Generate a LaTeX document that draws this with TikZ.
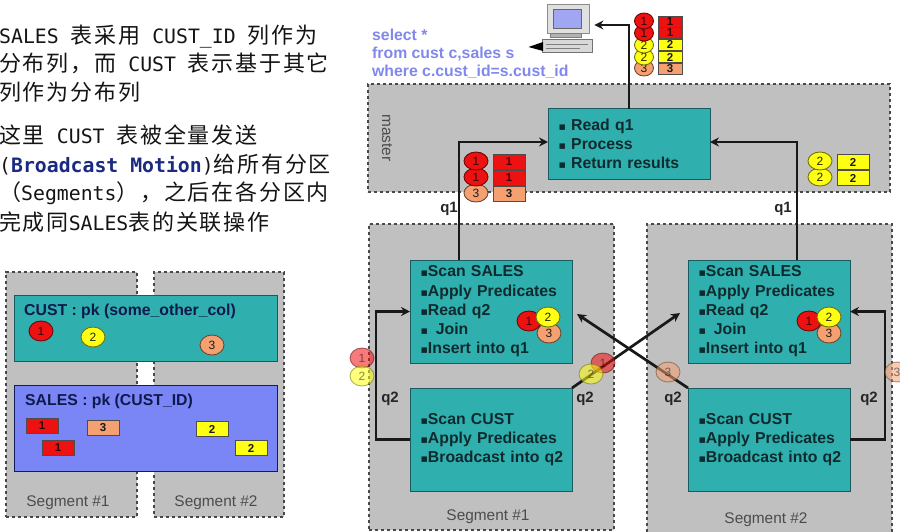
\documentclass[tikz,border=0pt]{standalone}
\usepackage{fontspec}
\usetikzlibrary{shapes.geometric,arrows.meta,calc}
\setmainfont{Liberation Sans}
\newfontfamily\cjkfam[LetterSpace=8.2]{Noto Sans CJK SC}
\newfontfamily\monofam{DejaVu Sans Mono}
\newfontfamily\bulletfam{DejaVu Sans}
\newcommand\zh[1]{{\fontsize{22}{24}\cjkfam #1}}
\newcommand\ltn[1]{{\fontsize{19.8}{24}\monofam #1}}
\newcommand\blt{\hspace*{7pt}{\bulletfam\fontsize{11}{12}\selectfont ▪}}
\newcommand\bltm{\hspace*{4.5pt}{\bulletfam\fontsize{11}{12}\selectfont ▪}}
\definecolor{segfill}{HTML}{C0C0C0}
\definecolor{segline}{HTML}{484848}
\definecolor{teal1}{HTML}{2FB0AE}
\definecolor{tealline}{HTML}{1A5A60}
\definecolor{blue1}{HTML}{7B86F6}
\definecolor{inktext}{HTML}{0F2A2E}
\definecolor{selblue}{HTML}{8088EC}
\definecolor{cred}{HTML}{EE1111}
\definecolor{cyel}{HTML}{FFFF11}
\definecolor{corg}{HTML}{F4A070}
\definecolor{navy1}{HTML}{1A2A80}
\tikzset{
  seg/.style={draw=segline,fill=segfill,dash pattern=on 3.2pt off 2.8pt,line width=1.2pt,inner sep=0pt,outer sep=0pt},
  tbox/.style={draw=tealline,fill=teal1,line width=1pt,inner sep=0pt,outer sep=0pt},
  proc/.style={tbox,text=inktext,font=\fontsize{15.8}{19.2}\selectfont\bfseries,align=left},
  tag/.style={ellipse,draw=#1!45!black,inner sep=0pt,minimum width=24pt,minimum height=20pt,line width=.9pt,text=black!85!#1,font=\fontsize{12}{12}\selectfont},
  tagr/.style={tag=cred,fill=cred,text=black!75!cred},
  tagy/.style={tag=cyel,fill=cyel},
  tago/.style={tag=corg,fill=corg},
  row/.style={rectangle,draw=black!70,inner sep=0pt,line width=.9pt,text=black!90,font=\fontsize{11.5}{12}\selectfont\bfseries},
  rowr/.style={row,fill=cred,text=black!75!cred},
  rowy/.style={row,fill=cyel},
  rowo/.style={row,fill=corg},
  ghost/.style={opacity=.55},
  flow/.style={line width=2.7pt,draw=black!90,-{Stealth[length=9pt,width=9pt]}},
  qlab/.style={font=\fontsize{15}{16}\selectfont\bfseries,text=black!85},
  seglab/.style={font=\fontsize{15.4}{16}\selectfont,text=black!70},
  zhline/.style={anchor=base west,inner sep=0pt,text=black!92},
  tabhead/.style={anchor=west,inner sep=0pt,font=\fontsize{15.8}{16}\selectfont\bfseries,text=navy1!60!black},
  sel/.style={anchor=west,inner sep=0pt,font=\fontsize{15.8}{16}\selectfont\bfseries,text=selblue},
}
\begin{document}
\begin{tikzpicture}[x=1pt,y=-1pt]
\useasboundingbox (0,0) rectangle (900,531);
% left text
\node[zhline] (l1) at (-1,43) {\ltn{SALES }\zh{表采用}\ltn{ CUST\_ID }\zh{列作为}};
\node[zhline] (l2) at (-1,71) {\zh{分布列，而}\ltn{ CUST }\zh{表示基于其它}};
\node[zhline] (l3) at (-1,100) {\zh{列作为分布列}};
\node[zhline] (l4) at (-1,143) {\zh{这里}\ltn{ CUST }\zh{表被全量发送}};
\node[zhline] (l5) at (-1,172) {\ltn{(}\textcolor{navy1}{\ltn{\bfseries Broadcast Motion}}\ltn{)}\zh{给所有分区}};
\node[zhline] (l6) at (-1,200) {\zh{（}\ltn{Segments}\zh{），之后在各分区内}};
\node[zhline] (l7) at (-1,230) {\zh{完成同}\ltn{SALES}\zh{表的关联操作}};
% left panel
\node[seg,minimum width=131pt,minimum height=245pt] (ls1) at (71.5,394.5) {};
\node[seg,minimum width=130pt,minimum height=245pt] (ls2) at (219,394.5) {};
\node[tbox,minimum width=263pt,minimum height=66pt] (custt) at (145.5,328) {};
\node[tbox,fill=blue1,draw=navy1!70!black,minimum width=263pt,minimum height=86pt] (salest) at (145.5,428) {};
\node[tabhead] (custh) at (24,311) {CUST : pk (some\_other\_col)};
\node[tabhead] (salesh) at (25,401) {SALES : pk (CUST\_ID)};
\node[tagr] (lc1) at (41,331) {1};
\node[tagy] (lc2) at (93,337) {2};
\node[tago] (lc3) at (212,345) {3};
\tikzset{lr/.style={minimum width=32pt,minimum height=15pt}}
\node[rowr,lr] (lr1) at (42,426) {1};
\node[rowo,lr] (lr3) at (103,428) {3};
\node[rowr,lr] (lr1b) at (58,448) {1};
\node[rowy,lr] (lr2) at (212,429) {2};
\node[rowy,lr] (lr2b) at (251,448) {2};
\node[seglab] (lsl1) at (68,503) {Segment \#1};
\node[seglab] (lsl2) at (216,503) {Segment \#2};
% right panel containers
\node[seg,minimum width=522pt,minimum height=108pt] (master) at (629,138) {};
\node[seg,minimum width=245pt,minimum height=306pt] (rs1) at (491.5,377) {};
\node[seg,minimum width=245pt,minimum height=309pt] (rs2) at (769.5,378.5) {};
\node[rotate=-90,seglab] (mlab) at (387,138) {master};
\node[seglab] (rsl1) at (488,517) {Segment \#1};
\node[seglab] (rsl2) at (766,520) {Segment \#2};
% process boxes
\node[proc,minimum width=162pt,minimum height=71pt,text width=150pt] (read) at (629,144) {\bltm\ Read q1\\\bltm\ Process\\\bltm\ Return results};
\node[proc,minimum width=162pt,minimum height=103pt,text width=155pt] (sales1) at (491,311.5) {\blt Scan SALES\\\blt Apply Predicates\\\blt Read q2\\\blt\ \,Join\\\blt Insert into q1};
\node[proc,minimum width=162pt,minimum height=103pt,text width=155pt] (cust1) at (491,439.5) {\blt Scan CUST\\\blt Apply Predicates\\\blt Broadcast into q2};
\node[proc,minimum width=162pt,minimum height=103pt,text width=155pt] (sales2) at (769,311.5) {\blt Scan SALES\\\blt Apply Predicates\\\blt Read q2\\\blt\ \,Join\\\blt Insert into q1};
\node[proc,minimum width=162pt,minimum height=103pt,text width=155pt] (cust2) at (769,439.5) {\blt Scan CUST\\\blt Apply Predicates\\\blt Broadcast into q2};
% circles in boxes
\node[tago] (a3) at (549,333) {3};
\node[tagr] (a1) at (529,321) {1};
\node[tagy] (a2) at (548,317) {2};
\node[tago] (b3) at (829,333) {3};
\node[tagr] (b1) at (809,321) {1};
\node[tagy] (b2) at (829,317) {2};
% computer
\node[rectangle,draw=black!45,fill=black!12,line width=.8pt,minimum width=42pt,minimum height=29pt,inner sep=0pt] (pc) at (568,18.5) {};
\fill[selblue!75!white,draw=black!60] (553,9) rectangle (581,28);
\fill[black!30,draw=black!50] (550,33) rectangle (581,37);
\fill[black!15,draw=black!55] (542,39) -- (592,39) -- (592,52) -- (542,52) -- cycle;
\draw[black!50] (546,44) -- (588,44) (546,48) -- (580,48);
\fill[black] (528.5,47) -- (543,42) -- (543,51) -- cycle;
% connectors
\coordinate (x1) at (680,313);
\coordinate (x2) at (577,314);
\draw[flow] ([xshift=81pt]read.north west) |- ([xshift=5pt,yshift=-6.5pt]pc.east);
\draw[flow] ([xshift=49pt]sales1.north west) |- ([yshift=2pt]read.west);
\draw[flow] ([xshift=109pt]sales2.north west) |- ([yshift=2pt]read.east);
\draw[flow] (cust1.west) -- ++(-34,0) |- (sales1.west);
\draw[flow] (cust2.east) -- ++(35,0) |- (sales2.east);
\draw[flow] (cust1.north east) -- (x1);
\draw[flow] (cust2.north west) -- (x2);
% faded tags on q2 flows
\node[tagr,ghost] (g1) at (362,358) {1};
\node[tagy,ghost] (g2) at (362,376) {2};
\node[tagr,ghost] (g3) at (603,363) {1};
\node[tagy,ghost] (g4) at (591,374) {2};
\node[tago,ghost] (g5) at (668,372) {3};
\node[tago,ghost] (g6) at (897,372) {3};
% labels
\node[qlab] (q1a) at (449,208.5) {q1};
\node[qlab] (q1b) at (783,208.5) {q1};
\node[qlab] (q2a) at (390,398.5) {q2};
\node[qlab] (q2b) at (585,398.5) {q2};
\node[qlab] (q2c) at (673,398.5) {q2};
\node[qlab] (q2d) at (869,398.5) {q2};
% select text
\node[sel] (s1) at (372,35) {select *};
\node[sel] (s2) at (372,54) {from cust c,sales s};
\node[sel] (s3) at (372,72) {where c.cust\_id=s.cust\_id};
% top stack
\tikzset{ts/.style={minimum width=19pt,minimum height=16pt},tr/.style={minimum width=24pt,minimum height=11pt}}
\node[tago,ts] (t5) at (644,68) {3};
\node[tagy,ts] (t4) at (644,57) {2};
\node[tagy,ts] (t3) at (644,45) {2};
\node[tagr,ts] (t2) at (644,33) {1};
\node[tagr,ts] (t1) at (644,21) {1};
\node[rowr,tr] (u1) at (670,21.5) {1};
\node[rowr,tr] (u2) at (670,33) {1};
\node[rowy,tr] (u3) at (670,44.5) {2};
\node[rowy,tr] (u4) at (670,57) {2};
\node[rowo,tr] (u5) at (670,68.5) {3};
% left stack
\tikzset{ms/.style={minimum width=24pt,minimum height=18pt},mr/.style={minimum width=32pt,minimum height=15pt}}
\node[tago,ms] (m3) at (476,193) {3};
\node[tagr,ms] (m2) at (476,177) {1};
\node[tagr,ms] (m1) at (476,161) {1};
\node[rowr,mr] (n1) at (509,162) {1};
\node[rowr,mr] (n2) at (509,178) {1};
\node[rowo,mr] (n3) at (509,194) {3};
% right stack
\node[tagy,ms] (r2) at (820,177) {2};
\node[tagy,ms] (r1) at (820,161) {2};
\node[rowy,mr] (w1) at (853,162) {2};
\node[rowy,mr] (w2) at (853,178) {2};
\end{tikzpicture}
\end{document}
